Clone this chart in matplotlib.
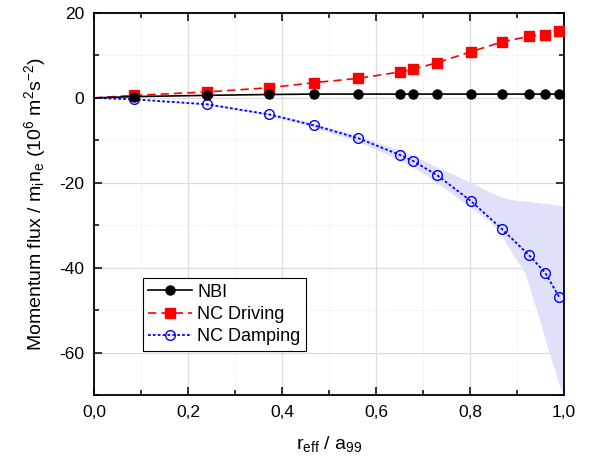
import numpy as np
import matplotlib
matplotlib.use('Agg')
import matplotlib.pyplot as plt
from matplotlib.ticker import MultipleLocator

plt.rcParams['font.family'] = ['Liberation Sans', 'DejaVu Sans']
plt.rcParams['mathtext.default'] = 'regular'
plt.rcParams['axes.unicode_minus'] = False

# ---- data ----
r = [0.0, 0.086, 0.24, 0.373, 0.469, 0.562, 0.650, 0.678, 0.730,
     0.803, 0.868, 0.926, 0.960, 0.990]
nbi = [0.0, 0.3, 0.6, 0.8, 0.9, 0.9, 0.9, 0.9, 0.9, 0.9, 0.9, 0.9, 0.9, 0.9]
nc_driving = [0.0, 0.6, 1.4, 2.4, 3.6, 4.6, 6.1, 6.7, 8.3,
              10.9, 13.2, 14.5, 14.9, 15.8]
nc_damping = [0.0, -0.35, -1.5, -3.9, -6.5, -9.5, -13.4, -14.8, -18.2,
              -24.4, -30.9, -37.1, -41.2, -47.0]

# uncertainty band of NC Damping
band_r = [0.0, 0.086, 0.24, 0.373, 0.469, 0.562, 0.650, 0.678, 0.730,
          0.803, 0.843, 0.868, 0.892, 0.917, 0.945, 0.970, 1.0]
band_hi = [0.0, -0.3, -1.3, -3.6, -6.0, -8.8, -12.3, -13.5, -16.3,
           -20.0, -22.2, -23.4, -24.0, -24.3, -24.7, -25.0, -25.5]
band_lo = [0.0, -0.4, -1.7, -4.2, -7.0, -10.3, -14.6, -16.2, -20.0,
           -26.0, -29.2, -32.5, -37.0, -41.2, -51.2, -60.6, -71.0]

fig = plt.figure(figsize=(5.9, 4.59), dpi=100)
ax = fig.add_axes([94/590, 1 - 395/459, 470/590, 382/459])

ax.fill_between(band_r, band_lo, band_hi, color='#dfe1fb', lw=0, zorder=1)

ax.plot(r, nbi, '-', color='black', lw=1.2, marker='o', ms=6.5,
        markevery=range(1, len(r)), label='NBI', zorder=4)
ax.plot(r, nc_driving, color='red', lw=1.2, ls=(0, (5, 3)), marker='s', ms=6.5,
        markevery=range(1, len(r)), label='NC Driving', zorder=3)
ax.plot(r, nc_damping, color='blue', lw=1.3, ls=(0, (1.5, 1.2)), marker='o', ms=7,
        mfc='none', mec='blue', mew=1.0,
        markevery=range(1, len(r)), label='NC Damping', zorder=3)

ax.set_xlim(0, 1.0)
ax.set_ylim(-70, 20)
ax.xaxis.set_major_locator(MultipleLocator(0.2))
ax.xaxis.set_minor_locator(MultipleLocator(0.1))
ax.yaxis.set_major_locator(MultipleLocator(20))
ax.yaxis.set_minor_locator(MultipleLocator(10))
ax.xaxis.set_major_formatter(lambda v, p: f'{v:.1f}'.replace('.', ','))

ax.grid(which='major', color='#dcdcdc', lw=0.9, zorder=0)
ax.grid(which='minor', color='#e6e6e6', lw=0.7, ls=':', zorder=0)
ax.set_axisbelow(True)

ax.tick_params(which='both', direction='in', top=True, right=True,
               labelsize=12.5, width=1.1)
ax.tick_params(which='major', length=6, pad=7)
ax.tick_params(which='minor', length=3.5)
for s in ax.spines.values():
    s.set_linewidth(1.3)

ax.set_xlabel('r$_{eff}$ / a$_{99}$', fontsize=14, labelpad=10)
ax.set_ylabel('Momentum flux / m$_i$n$_e$ (10$^6$ m$^2$s$^{-2}$)', fontsize=14,
              labelpad=8)

leg = ax.legend(loc='upper left', bbox_to_anchor=(0.104, 0.306), fontsize=13,
                frameon=True, fancybox=False, framealpha=1, edgecolor='black',
                handlelength=2.4, borderpad=0.3, labelspacing=0.3,
                handletextpad=0.3, borderaxespad=0)
leg.get_frame().set_linewidth(0.8)

fig.savefig('out.png', dpi=100)
